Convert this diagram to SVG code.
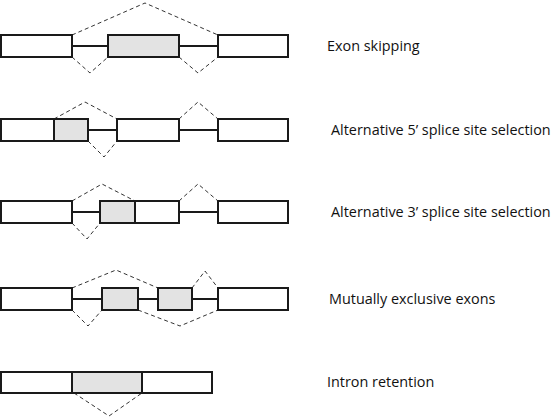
<svg xmlns="http://www.w3.org/2000/svg" width="553" height="417" viewBox="0 0 553 417">
<style>
.ex{fill:#ffffff;stroke:#1a1a1a;stroke-width:2}
.alt{fill:#e3e3e3;stroke:#1a1a1a;stroke-width:2}
.in{stroke:#1a1a1a;stroke-width:2;fill:none}
.sp{stroke:#333;stroke-width:1;stroke-dasharray:4,3;fill:none}
.lb{font-family:"Open Sans","Liberation Sans",sans-serif;font-size:14.4px;fill:#111111}
</style>
<rect width="553" height="417" fill="#ffffff"/>
<g id="connectors">
<line class="in" x1="72" y1="46" x2="108" y2="46"/>
<line class="in" x1="179" y1="46" x2="218" y2="46"/>
<polyline class="sp" points="72,35 145,3 218,35"/>
<polyline class="sp" points="72,57 90,73 108,57"/>
<polyline class="sp" points="179,57 198,73 218,57"/>
<line class="in" x1="88" y1="130" x2="117" y2="130"/>
<line class="in" x1="179" y1="130" x2="218" y2="130"/>
<polyline class="sp" points="54,119 85,102 117,119"/>
<polyline class="sp" points="179,119 198,102 218,119"/>
<polyline class="sp" points="88,141 104,157 117,141"/>
<line class="in" x1="72" y1="212" x2="100" y2="212"/>
<line class="in" x1="179" y1="212" x2="218" y2="212"/>
<polyline class="sp" points="72,201 102,184 135,201"/>
<polyline class="sp" points="179,201 198,184 218,201"/>
<polyline class="sp" points="72,223 87,239 100,223"/>
<line class="in" x1="72" y1="299" x2="102" y2="299"/>
<line class="in" x1="138" y1="299" x2="158" y2="299"/>
<line class="in" x1="192" y1="299" x2="218" y2="299"/>
<polyline class="sp" points="72,288 116,270 158,288"/>
<polyline class="sp" points="192,288 205,271 218,288"/>
<polyline class="sp" points="72,310 88,326 102,310"/>
<polyline class="sp" points="138,310 180,326 218,310"/>
<polyline class="sp" points="74,393 109,416 142,393"/>
</g>
<g id="exon-skipping">
<rect class="ex" x="1" y="35" width="71" height="22"/>
<rect class="alt" x="108" y="35" width="71" height="22"/>
<rect class="ex" x="218" y="35" width="70" height="22"/>
<text class="lb" x="327" y="51">Exon skipping</text>
</g>
<g id="alt5">
<rect class="ex" x="1" y="119" width="87" height="22"/>
<rect class="alt" x="54" y="119" width="34" height="22"/>
<rect class="ex" x="117" y="119" width="62" height="22"/>
<rect class="ex" x="218" y="119" width="70" height="22"/>
<text class="lb" x="331" y="135">Alternative 5’ splice site selection</text>
</g>
<g id="alt3">
<rect class="ex" x="1" y="201" width="71" height="22"/>
<rect class="ex" x="100" y="201" width="79" height="22"/>
<rect class="alt" x="100" y="201" width="35" height="22"/>
<rect class="ex" x="218" y="201" width="70" height="22"/>
<text class="lb" x="331" y="217">Alternative 3’ splice site selection</text>
</g>
<g id="mutex">
<rect class="ex" x="1" y="288" width="71" height="22"/>
<rect class="alt" x="102" y="288" width="36" height="22"/>
<rect class="alt" x="158" y="288" width="34" height="22"/>
<rect class="ex" x="218" y="288" width="70" height="22"/>
<text class="lb" x="329" y="304">Mutually exclusive exons</text>
</g>
<g id="intron-retention">
<rect class="ex" x="1" y="372" width="211" height="21"/>
<rect class="alt" x="72" y="372" width="70" height="21"/>
<text class="lb" x="327" y="387">Intron retention</text>
</g>
</svg>
